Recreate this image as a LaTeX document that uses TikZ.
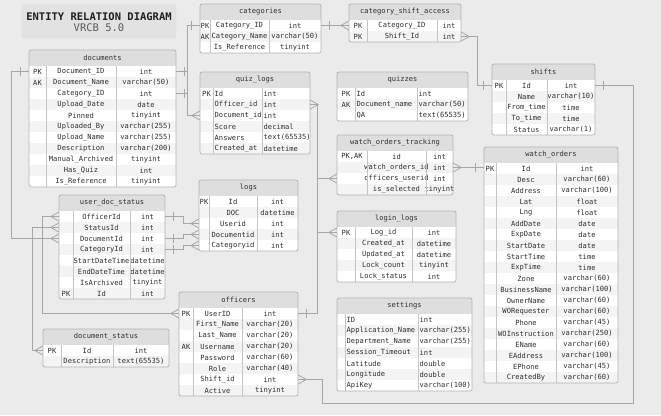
\documentclass[tikz,border=0pt]{standalone}
\usepackage{fontspec}
\usepackage{xcolor}
\usepackage{tikz}
\setmonofont{DejaVu Sans Mono}

\definecolor{bggray}{HTML}{EBEBEB}
\definecolor{titlegray}{HTML}{E2E2E2}
\definecolor{titleedge}{HTML}{DCDCDC}
\definecolor{headgray}{HTML}{DEDEDE}
\definecolor{rowgray}{HTML}{F4F4F4}
\definecolor{framegray}{HTML}{B4B4B4}
\definecolor{rulegray}{HTML}{C4C4C4}
\definecolor{linkgray}{HTML}{A6A6A6}
\definecolor{inkgray}{HTML}{2E2E2E}

% crow's foot ends
\pgfdeclarearrow{
  name = erone,
  setup code = {
    \pgfarrowssettipend{0pt}
    \pgfarrowssetlineend{0pt}
    \pgfarrowssetbackend{-9pt}
    \pgfarrowssetvisualbackend{-9pt}
    \pgfarrowshullpoint{0pt}{0pt}
    \pgfarrowsupperhullpoint{-9pt}{4.5pt}
  },
  drawing code = {
    \pgfpathmoveto{\pgfqpoint{-8pt}{-4.5pt}}
    \pgfpathlineto{\pgfqpoint{-8pt}{4.5pt}}
    \pgfusepathqstroke
  }
}
\pgfdeclarearrow{
  name = ermany,
  setup code = {
    \pgfarrowssettipend{0pt}
    \pgfarrowssetlineend{0pt}
    \pgfarrowssetbackend{-8pt}
    \pgfarrowssetvisualbackend{-8pt}
    \pgfarrowsupperhullpoint{0pt}{4.5pt}
    \pgfarrowshullpoint{-8pt}{0pt}
  },
  drawing code = {
    \pgfpathmoveto{\pgfqpoint{0pt}{4.5pt}}
    \pgfpathlineto{\pgfqpoint{-8pt}{0pt}}
    \pgfpathlineto{\pgfqpoint{0pt}{-4.5pt}}
    \pgfusepathqstroke
  }
}

% name, title, left, top, key|field, field|type, right, align (l/c), rows
\newcommand{\ertable}[9]{%
  \pgfmathsetmacro{\tabw}{#7-#3}%
  \foreach \rkey/\rfield/\rtype [count=\i] in {#9} {\xdef\nrows{\i}}%
  \pgfmathsetmacro{\tabb}{#4+16+\nrows*11}%
  \fill[white] ({#3},{#4}) rectangle ({#7},\tabb);
  \node[tablehead, minimum width=\tabw pt] (#1) at ({(#3+#7)/2},{#4+8}) {#2};
  \foreach \rkey/\rfield/\rtype [count=\i] in {#9} {
    \pgfmathsetmacro{\ry}{#4+16+(\i-1)*11+5.5}
    \ifodd\i \def\rowfill{white}\else \def\rowfill{rowgray}\fi
    \node[tablerow, fill=\rowfill, minimum width=\tabw pt] (#1-\i) at ({(#3+#7)/2},\ry) {};
    \node[celltext] (#1-\i-k) at ({(#3+#5)/2},\ry) {\rkey};
    \if l#8
      \node[celltext, anchor=west] (#1-\i-f) at ({#5+1.5},\ry) {\rfield};
      \node[celltext, anchor=west] (#1-\i-t) at ({#6+1.5},\ry) {\rtype};
    \else
      \node[celltext] (#1-\i-f) at ({(#5+#6)/2},\ry) {\rfield};
      \node[celltext] (#1-\i-t) at ({(#6+#7)/2},\ry) {\rtype};
    \fi
  }
  \draw[cellrule] ({#5},{#4+16}) -- ({#5},\tabb) ({#6},{#4+16}) -- ({#6},\tabb);
  \draw[tableframe] ({#3},{#4}) rectangle ({#7},\tabb);
}

\begin{document}
\begin{tikzpicture}[x=1pt, y=-1pt,
    tablehead/.style={rectangle, fill=headgray, inner sep=0pt, minimum height=16pt,
      font=\ttfamily\fontsize{7.1}{8}\selectfont, text=inkgray},
    tablerow/.style={rectangle, inner sep=0pt, minimum height=11pt},
    celltext/.style={inner sep=0pt, font=\ttfamily\fontsize{7.1}{8}\selectfont, text=inkgray},
    cellrule/.style={draw=rulegray, line width=0.6pt},
    tableframe/.style={draw=framegray, line width=0.8pt, rounded corners=2pt},
    titlebox/.style={rectangle, rounded corners=2pt, fill=titlegray, draw=titleedge,
      minimum width=154pt, minimum height=34pt},
    link/.style={draw=linkgray, line width=0.8pt}]
\useasboundingbox (0,0) rectangle (661,415);
\fill[bggray] (0,0) rectangle (661,415);

\node[titlebox] (title) at (99,21) {};
\node[inner sep=0pt, font=\ttfamily\bfseries\fontsize{10.5}{12}\selectfont, text=black!88] (title-main) at (99,16.5) {ENTITY RELATION DIAGRAM};
\node[inner sep=0pt, font=\ttfamily\fontsize{10.5}{12}\selectfont, text=black!65] (title-ver) at (99,27.3) {VRCB 5.0};

\ertable{docs}{documents}{29}{50}{46}{116}{176}{c}{PK/Document\_ID/int, AK/Document\_Name/varchar(50),
  {}/Category\_ID/int, {}/Upload\_Date/date, {}/Pinned/tinyint, {}/Uploaded\_By/varchar(255),
  {}/Upload\_Name/varchar(255), {}/Description/varchar(200), {}/Manual\_Archived/tinyint,
  {}/Has\_Quiz/int, {}/Is\_Reference/tinyint}
\ertable{cats}{categories}{200}{4}{210}{269}{321}{c}{PK/Category\_ID/int, AK/Category\_Name/varchar(50),
  {}/Is\_Reference/tinyint}
\ertable{csa}{category\_shift\_access}{349}{4}{367}{437}{461}{c}{PK/Category\_ID/int, PK/Shift\_Id/int}
\ertable{quizlogs}{quiz\_logs}{200}{72}{213}{262}{310}{l}{PK/Id/int, {}/Officer\_id/int, {}/Document\_id/int,
  {}/Score/decimal, {}/Answers/text(65535), {}/Created\_at/datetime}
\ertable{quizzes}{quizzes}{337}{72}{355}{417}{468}{l}{PK/Id/int, AK/Document\_name/varchar(50), {}/QA/text(65535)}
\ertable{shifts}{shifts}{492}{64}{506}{547}{595}{c}{PK/Id/int, {}/Name/varchar(10), {}/From\_time/time,
  {}/To\_time/time, {}/Status/varchar(1)}
\ertable{watchorders}{watch\_orders}{484}{147}{496}{556}{618}{c}{PK/Id/int, {}/Desc/varchar(60),
  {}/Address/varchar(100), {}/Lat/float, {}/Lng/float, {}/AddDate/date, {}/ExpDate/date,
  {}/StartDate/date, {}/StartTime/time, {}/ExpTime/time, {}/Zone/varchar(60),
  {}/BusinessName/varchar(100), {}/OwnerName/varchar(60), {}/WORequester/varchar(60),
  {}/Phone/varchar(45), {}/WOInstruction/varchar(250), {}/EName/varchar(60),
  {}/EAddress/varchar(100), {}/EPhone/varchar(45), {}/CreatedBy/varchar(60)}
\ertable{uds}{user\_doc\_status}{59}{195}{73}{130}{165}{c}{{}/OfficerId/int, {}/StatusId/int,
  {}/DocumentId/int, {}/CategoryId/int, {}/StartDateTime/datetime, {}/EndDateTime/datetime,
  {}/IsArchived/tinyint, PK/Id/int}
\ertable{docstatus}{document\_status}{43}{329}{61}{113}{169}{c}{PK/Id/int, {}/Description/text(65535)}
\ertable{logs}{logs}{199}{180}{209}{257}{298}{c}{PK/Id/int, {}/DOC/datetime, {}/Userid/int,
  {}/Documentid/int, {}/Categoryid/int}
\ertable{officers}{officers}{179}{292}{193}{242}{298}{c}{PK/UserID/int, {}/First\_Name/varchar(20),
  {}/Last\_Name/varchar(20), AK/Username/varchar(20), {}/Password/varchar(60),
  {}/Role/varchar(40), {}/Shift\_id/int, {}/Active/tinyint}
\ertable{wot}{watch\_orders\_tracking}{337}{135}{367}{426}{453}{c}{{PK,AK}/id/int,
  {}/watch\_orders\_id/int, {}/officers\_userid/int, {}/is\_selected/tinyint}
\ertable{loginlogs}{login\_logs}{337}{211}{355}{412}{456}{c}{PK/Log\_id/int, {}/Created\_at/datetime,
  {}/Updated\_at/datetime, {}/Lock\_count/tinyint, {}/Lock\_status/int}
\ertable{settings}{settings}{337}{298}{345}{418}{472}{l}{{}/ID/int, {}/Application\_Name/varchar(255),
  {}/Department\_Name/varchar(255), {}/Session\_Timeout/int, {}/Latitude/double,
  {}/Longitude/double, {}/ApiKey/varchar(100)}

\draw[link, erone-ermany] (docs-1.west) -- ++(-17,0) |- (uds-3.west);
\draw[link, erone-ermany] (docs-1.east) -- ++(11,0) |- (quizlogs-3.west);
\draw[link, erone-erone] (docs-3.east) -- ++(11,0) |- (cats-1.west);
\draw[link, erone-ermany] (cats-1.east) -- (csa-1.west);
\draw[link, ermany-erone] (csa-2.east) -- ++(16,0) |- (shifts-1.west);
\draw[link, erone-ermany] (shifts-1.east) -- ++(38,0) -- ++(0,318) -- ++(-311,0) |- (officers-7.east);
\draw[link, erone-ermany] (officers-1.east) -- ++(19,0) |- (quizlogs-2.east);
\draw[link, erone-ermany] (officers-1.east) -- ++(19,0) |- (wot-3.west);
\draw[link, erone-ermany] (officers-1.east) -- ++(19,0) |- (loginlogs-1.west);
\draw[link, ermany-erone] (wot-2.east) -- (wot-2.east -| watchorders-1.west);
\draw[link, ermany-ermany] (uds-1.west) -- ++(-16,0) |- (officers-1.west);
\draw[link, ermany-ermany] (uds-2.west) -- ++(-26,0) |- (docstatus-1.west);
\draw[link, erone-ermany] (uds-1.east) -- ++(18,0) |- (logs-3.west);
\draw[link, erone-ermany] (uds-3.east) -- ++(18,0) |- (logs-4.west);
\draw[link, erone-ermany] (uds-4.east) -- ++(18,0) |- (logs-5.west);
\end{tikzpicture}
\end{document}
